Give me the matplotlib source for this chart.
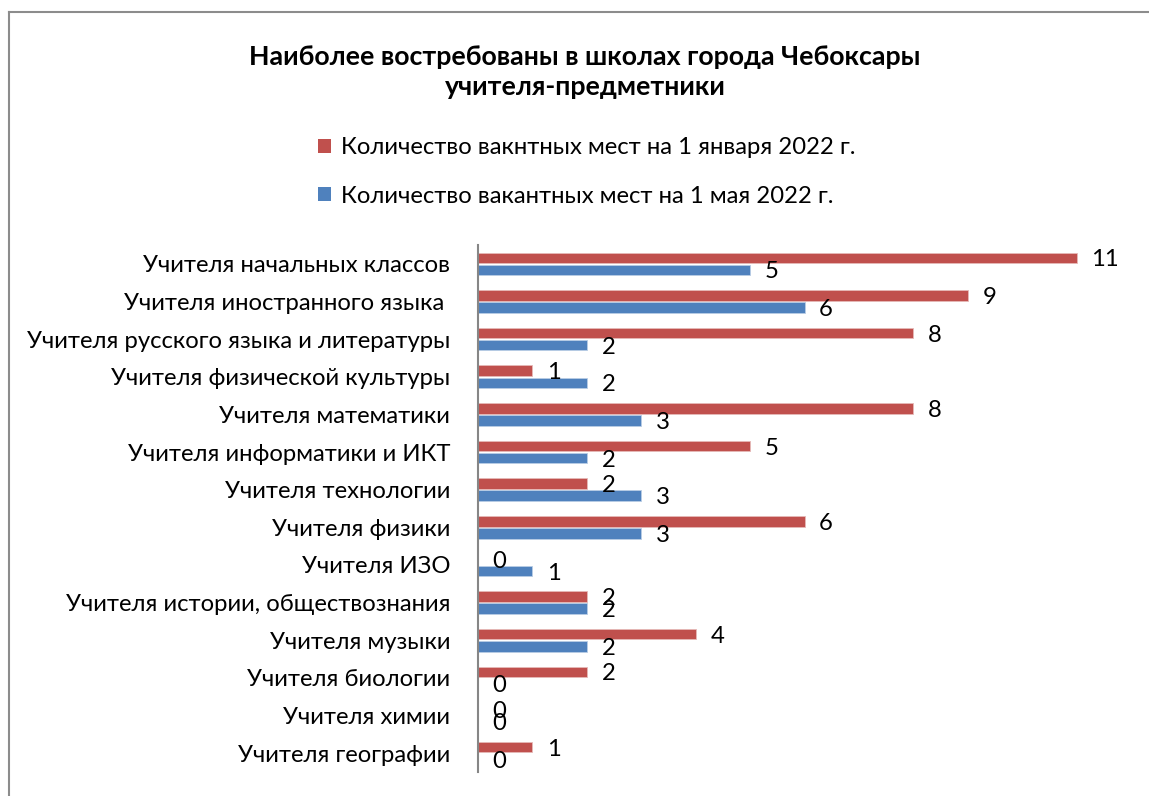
import matplotlib
matplotlib.use('Agg')
import matplotlib.pyplot as plt
from matplotlib.lines import Line2D
from matplotlib.patches import Patch

plt.rcParams['font.family'] = ['Lato', 'DejaVu Sans']

categories = [
    'Учителя начальных классов',
    'Учителя иностранного языка ',
    'Учителя русского языка и литературы',
    'Учителя физической культуры',
    'Учителя математики',
    'Учителя информатики и ИКТ',
    'Учителя технологии',
    'Учителя физики',
    'Учителя ИЗО',
    'Учителя истории, обществознания',
    'Учителя музыки',
    'Учителя биологии',
    'Учителя химии',
    'Учителя географии',
]
jan_values = [11, 9, 8, 1, 8, 5, 2, 6, 0, 2, 4, 2, 0, 1]
may_values = [5, 6, 2, 2, 3, 2, 3, 3, 1, 2, 2, 0, 0, 0]
jan_label = 'Количество вакнтных мест на 1 января 2022 г.'
may_label = 'Количество вакантных мест на 1 мая 2022 г.'
title = 'Наиболее востребованы в школах города Чебоксары\nучителя-предметники'

RED = '#C0504D'
BLUE = '#4F81BD'
W, H = 1149, 796
FS = 17.2

fig = plt.figure(figsize=(W / 100, H / 100), dpi=100)
ax = fig.add_axes([478 / W, 1 - 772 / H, (1131 - 478) / W, (772 - 245) / H])

ys = list(range(len(categories)))
bh = 0.28
off = 0.16
ax.barh([y - off for y in ys], jan_values, height=bh, color=RED, edgecolor='#E6B9B8', linewidth=0.6)
ax.barh([y + off for y in ys], may_values, height=bh, color=BLUE, edgecolor='#B9CDE5', linewidth=0.6)

for y, v in zip(ys, jan_values):
    ax.annotate(str(v), (v, y - off), xytext=(10.5, -1.5), textcoords='offset points',
                ha='left', va='center', fontsize=FS)
for y, v in zip(ys, may_values):
    ax.annotate(str(v), (v, y + off), xytext=(10.5, -1.5), textcoords='offset points',
                ha='left', va='center', fontsize=FS)

ax.set_xlim(0, 12)
ax.set_ylim(len(categories) - 0.5, -0.5)
ax.set_yticks(ys)
ax.set_yticklabels(categories, fontsize=FS)
ax.tick_params(axis='y', length=0, pad=20)
ax.set_xticks([])
for s in ['top', 'right', 'bottom']:
    ax.spines[s].set_visible(False)
ax.spines['left'].set_color('#868686')
ax.spines['left'].set_linewidth(1.5)

fig.text(585 / W, 1 - 72 / H, title, ha='center', va='center', fontsize=19.3,
         fontweight='bold', linespacing=1.27)

handles = [Patch(facecolor=RED), Patch(facecolor=BLUE)]
fig.legend(handles, [jan_label, may_label], loc='center left',
           bbox_to_anchor=(318 / W, 1 - 172 / H), frameon=False, fontsize=FS,
           borderpad=0, borderaxespad=0, handlelength=0.55, handleheight=0.55,
           handletextpad=0.4, labelspacing=1.15)

# chart frame (left and top edges visible)
fig.add_artist(Line2D([8.5 / W, 8.5 / W], [0, 1 - 12 / H], color='#8C8C8C', lw=1.5))
fig.add_artist(Line2D([8.5 / W, 1], [1 - 12 / H, 1 - 12 / H], color='#8C8C8C', lw=1.5))

fig.savefig('out.png', dpi=100, facecolor='white')
